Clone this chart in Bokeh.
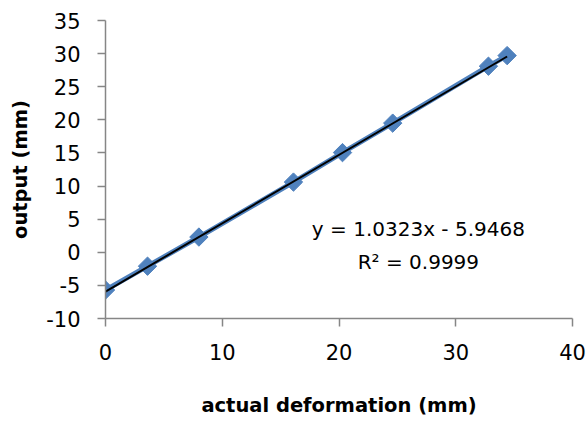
from bokeh.plotting import figure
from bokeh.models import Label, FixedTicker, Range1d, ColumnDataSource, PrintfTickFormatter
from bokeh.embed import file_html
from bokeh.resources import INLINE
import numpy as np

# ---- data ----
actual_deformation = [0.0, 3.6, 8.0, 16.1, 20.3, 24.6, 32.8, 34.4]
output_mm = [-5.7, -2.1, 2.3, 10.6, 15.05, 19.5, 28.1, 29.7]
fit_slope = 1.0323
fit_intercept = -5.9468
r_squared = 0.9999
x_ticks = [0, 10, 20, 30, 40]
y_ticks = [-10, -5, 0, 5, 10, 15, 20, 25, 30, 35]

FONT = "DejaVu Sans"
BLUE = "#4F81BD"
AXIS_GRAY = "#868686"

p = figure(width=588, height=421, output_backend="svg", toolbar_location=None,
           x_range=Range1d(0, 40), y_range=Range1d(-10, 35),
           min_border_left=105, min_border_right=16, min_border_top=20,
           min_border_bottom=103)
p.outline_line_color = None
p.grid.visible = False
p.background_fill_color = "white"
p.border_fill_color = "white"

src = ColumnDataSource(dict(x=actual_deformation, y=output_mm))
p.line("x", "y", source=src, line_color=BLUE, line_width=5)
p.scatter("x", "y", source=src, marker="square", size=13, angle=np.pi / 4,
          fill_color=BLUE, line_color=BLUE)

tx = [min(actual_deformation), max(actual_deformation)]
ty = [fit_slope * v + fit_intercept for v in tx]
p.line(tx, ty, line_color="black", line_width=2)

for ax in (p.xaxis[0], p.yaxis[0]):
    ax.axis_line_color = AXIS_GRAY
    ax.axis_line_width = 1.5
    ax.major_tick_line_color = AXIS_GRAY
    ax.major_tick_line_width = 1.5
    ax.major_tick_out = 8
    ax.major_tick_in = 0
    ax.minor_tick_line_color = None
    ax.major_label_text_font = FONT
    ax.major_label_text_font_size = "21px"
    ax.major_label_text_color = "black"
    ax.axis_label_text_font = FONT
    ax.axis_label_text_font_style = "bold"
    ax.axis_label_text_font_size = "19.5px"
    ax.axis_label_text_color = "black"
    ax.formatter = PrintfTickFormatter(format="%d")

p.xaxis[0].ticker = FixedTicker(ticks=x_ticks)
p.yaxis[0].ticker = FixedTicker(ticks=y_ticks)
p.xaxis[0].axis_label = "actual deformation (mm)"
p.yaxis[0].axis_label = "output (mm)"
p.xaxis[0].major_label_standoff = 17
p.xaxis[0].axis_label_standoff = 31
p.yaxis[0].major_label_standoff = 17
p.yaxis[0].axis_label_standoff = 11

eq = f"y = {fit_slope:.4f}x - {abs(fit_intercept):.4f}"
r2 = f"R² = {r_squared:.4f}"
p.add_layout(Label(x=26.8, y=3.5, text=eq, text_align="center", text_baseline="middle",
                   text_font=FONT, text_font_size="20px", text_color="black"))
p.add_layout(Label(x=26.8, y=-1.5, text=r2, text_align="center", text_baseline="middle",
                   text_font=FONT, text_font_size="20px", text_color="black"))

open("out.html", "w").write(file_html(p, INLINE))
